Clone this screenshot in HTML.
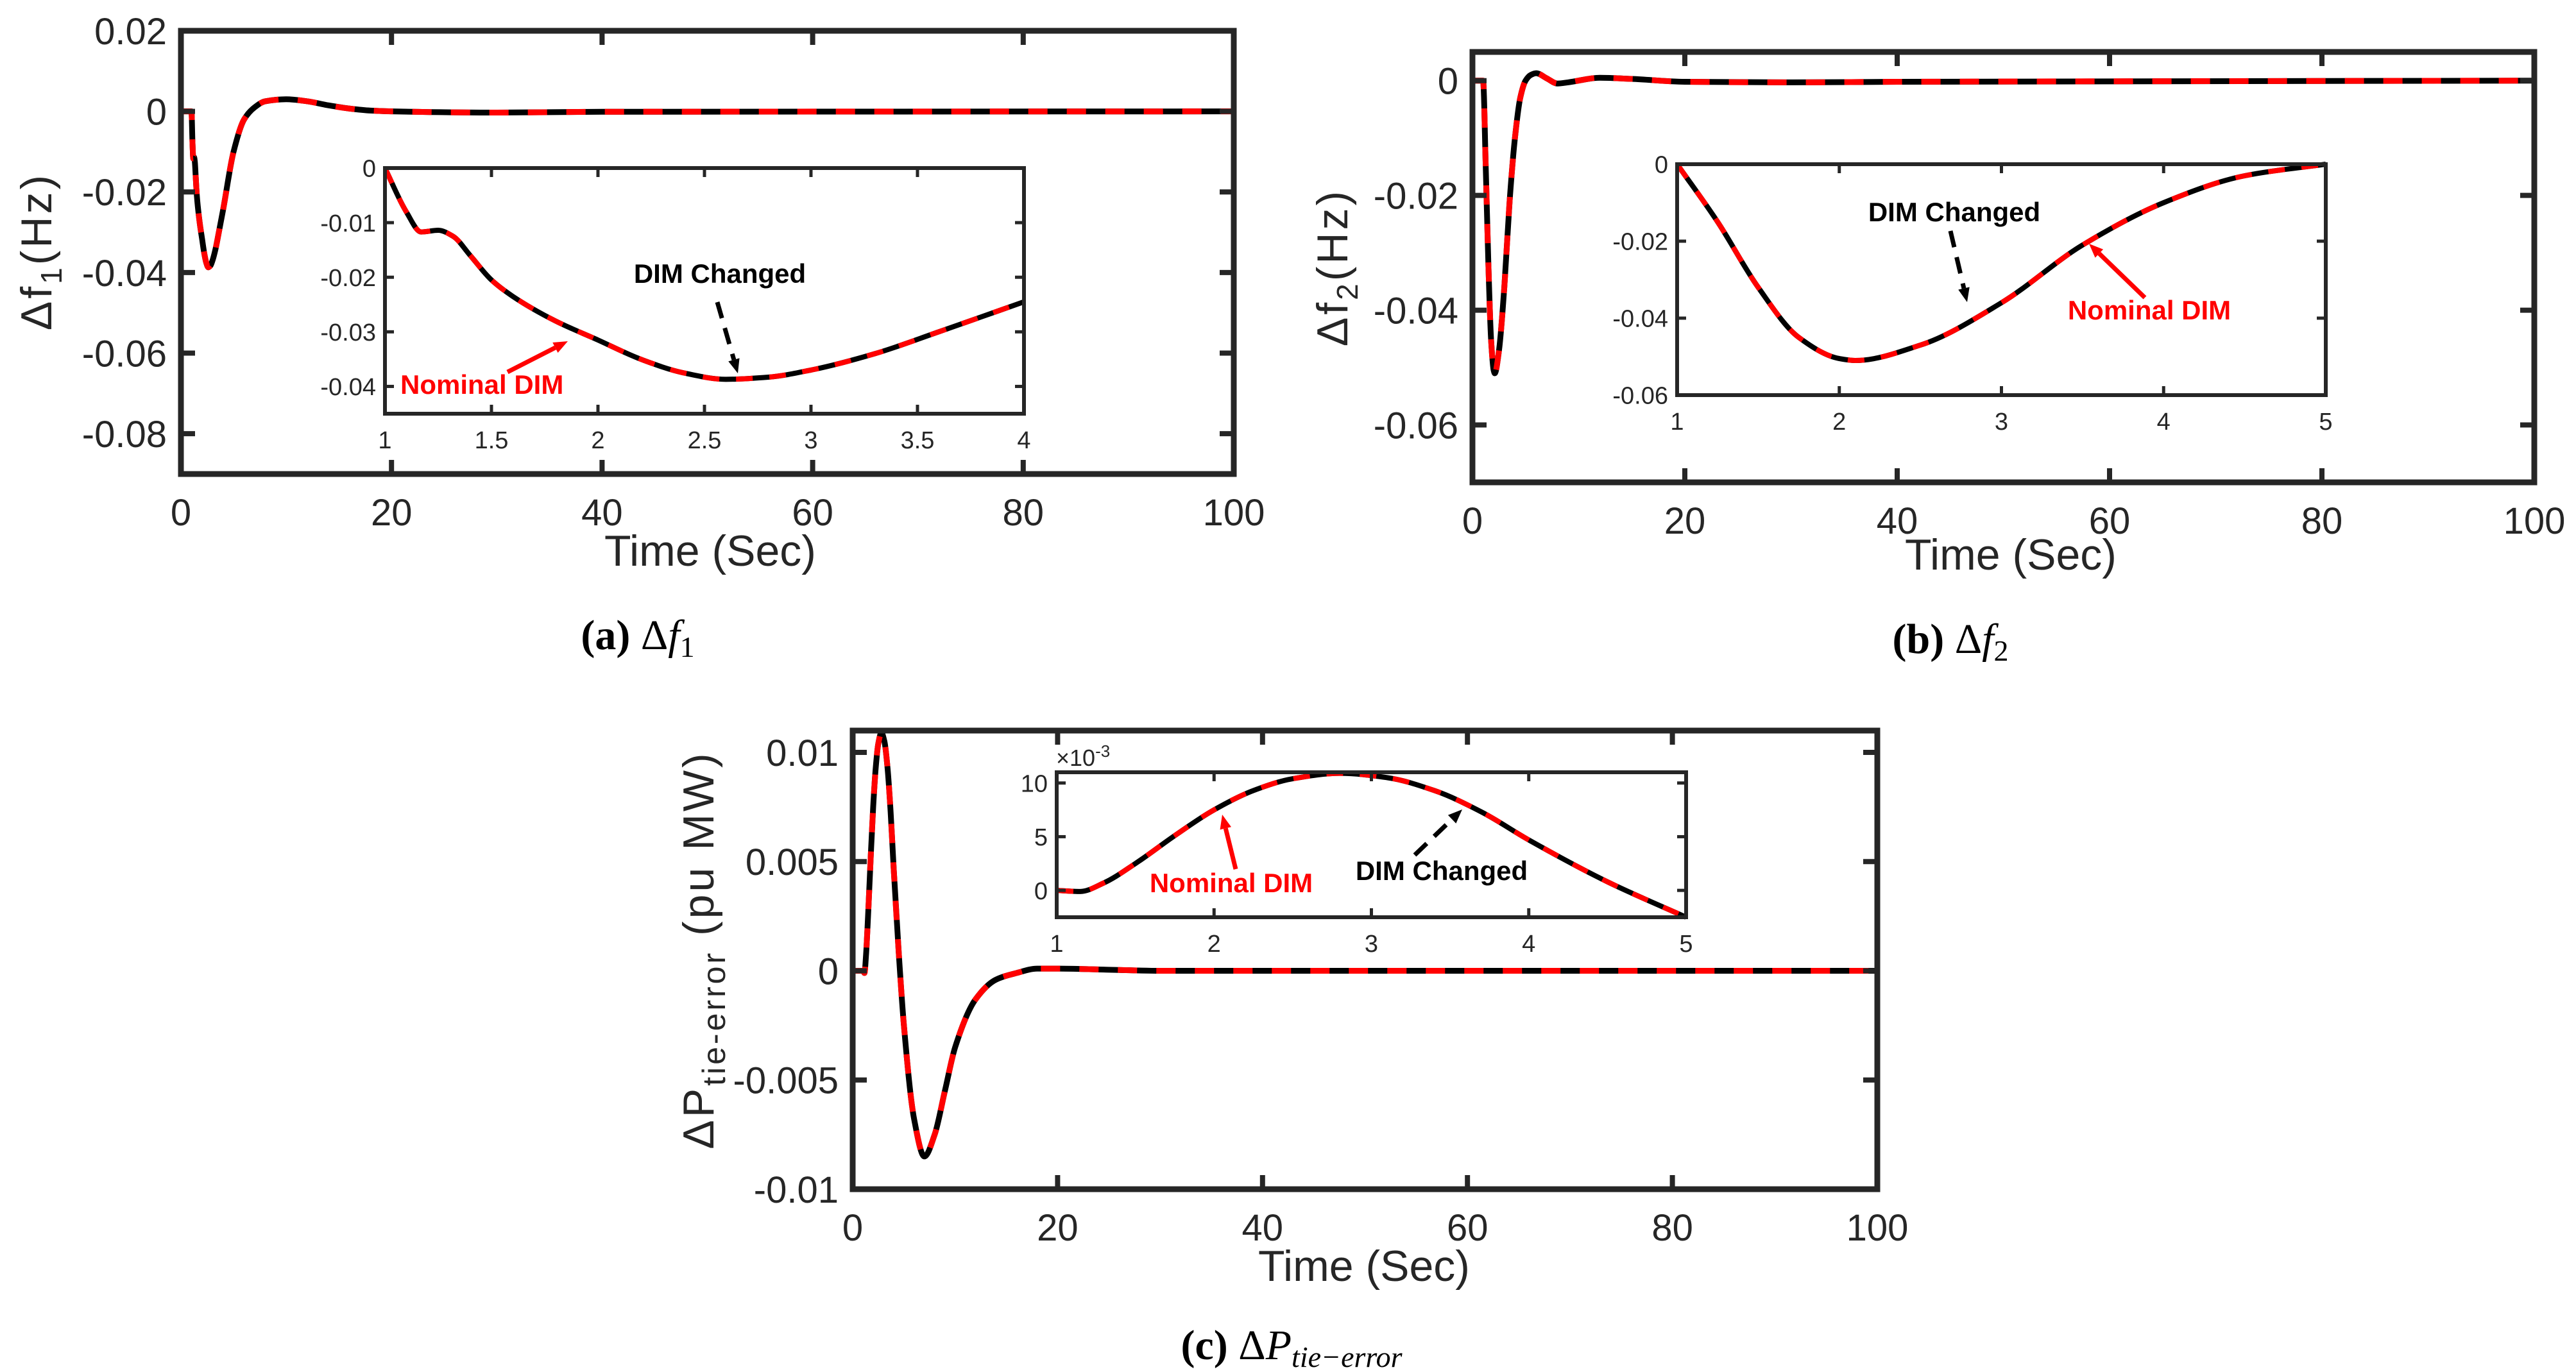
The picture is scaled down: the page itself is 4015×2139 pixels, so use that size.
<!DOCTYPE html>
<html><head><meta charset="utf-8"><style>
html,body{margin:0;padding:0;background:#fff;}
svg{display:block;}
text{font-family:"Liberation Sans",sans-serif;fill:#262626;}
.cap{font-family:"Liberation Serif",serif;fill:#000;}
</style></head><body>
<svg id="fig" width="4015" height="2139" viewBox="0 0 4015 2139" xmlns="http://www.w3.org/2000/svg"></svg>
<script>
// ---- data ----
const tA = [0,1,1.1,1.17,1.25,1.32,1.4,1.5,1.6,1.8,2.0,2.2,2.4,2.6,2.8,3.0,3.3,3.6,4,5,6,7,8,10,12,14,16,18,20,30,40,100];
const vA = [0,0,-0.008,-0.0117,-0.0114,-0.0125,-0.016,-0.0205,-0.0235,-0.028,-0.0315,-0.035,-0.0375,-0.0387,-0.0383,-0.037,-0.034,-0.030,-0.0245,-0.010,-0.002,0.001,0.0025,0.003,0.0025,0.0015,0.0007,0.0002,0,-0.0003,-0.0001,0];
const tB = [0,1,1.25,1.5,1.75,2.0,2.1,2.5,3.0,3.5,4.0,4.5,5,5.5,6,7,8,9,12,15,20,30,40,100];
const vB = [0,0,-0.015,-0.032,-0.045,-0.0505,-0.051,-0.047,-0.036,-0.021,-0.010,-0.003,0,0.001,0.0013,0.0004,-0.0005,-0.0003,0.0005,0.0003,-0.0002,-0.0003,-0.0002,0];
const tC = [0,1,1.15,1.3,1.5,1.75,2.0,2.25,2.5,2.8,3.1,3.4,3.7,4.0,4.5,5,6,7,8,9,10,12,14,16,18,20,25,30,100];
const vC = [0,0,-0.0001,0.0007,0.0025,0.0051,0.0075,0.0093,0.0104,0.0109,0.0105,0.0093,0.0073,0.0047,0.0008,-0.0025,-0.0068,-0.0085,-0.0075,-0.0055,-0.0035,-0.0013,-0.0004,-0.0001,0.0001,0.0001,0.00005,0,0];
const xTicksMain = [0,20,40,60,80,100];
const yTicksA = [0.02,0,-0.02,-0.04,-0.06,-0.08];
const yTicksB = [0,-0.02,-0.04,-0.06];
const yTicksC = [0.01,0.005,0,-0.005,-0.01];
const xTicksInA = [1,1.5,2,2.5,3,3.5,4];
const yTicksInA = [0,-0.01,-0.02,-0.03,-0.04];
const xTicksInB = [1,2,3,4,5];
const yTicksInB = [0,-0.02,-0.04,-0.06];
const xTicksInC = [1,2,3,4,5];
const yTicksInC = [10,5,0];

const NS="http://www.w3.org/2000/svg";
const svg=document.getElementById('fig');
function mk(tag,attrs,parent){const e=document.createElementNS(NS,tag);for(const k in attrs)e.setAttribute(k,attrs[k]);(parent||svg).appendChild(e);return e;}
function smoothPath(p){
  const n=p.length;if(n<2)return '';
  const d=[],m=new Array(n);
  for(let i=0;i<n-1;i++)d.push((p[i+1][1]-p[i][1])/(p[i+1][0]-p[i][0]));
  m[0]=d[0];m[n-1]=d[n-2];
  for(let i=1;i<n-1;i++){ if(d[i-1]*d[i]<=0)m[i]=0; else {const h0=p[i][0]-p[i-1][0],h1=p[i+1][0]-p[i][0];const w1=2*h1+h0,w2=h1+2*h0;m[i]=(w1+w2)/(w1/d[i-1]+w2/d[i]);} }
  let s=`M${p[0][0]},${p[0][1]}`;
  for(let i=0;i<n-1;i++){const h=(p[i+1][0]-p[i][0])/3;
    s+=` C${p[i][0]+h},${p[i][1]+m[i]*h} ${p[i+1][0]-h},${p[i+1][1]-m[i+1]*h} ${p[i+1][0]},${p[i+1][1]}`;}
  return s;
}
function fmt(v){return String(v);}
function axes(o){
  const g=mk('g',{});
  
  
  const sx=v=>o.L+(v-o.x0)/(o.x1-o.x0)*(o.R-o.L);
  const sy=v=>o.B-(v-o.y0)/(o.y1-o.y0)*(o.B-o.T);
  mk('rect',{x:o.L,y:o.T,width:o.R-o.L,height:o.B-o.T,fill:'#fff',stroke:'none'},g);
  const cid='c'+o.name;
  const cp=mk('clipPath',{id:cid},g);mk('rect',{x:o.L,y:o.T-6,width:o.R-o.L,height:o.B-o.T+12},cp);
  const pts=[];
  for(let i=0;i<o.t.length;i++){if(o.t[i]>=o.x0-0.3&&o.t[i]<=o.x1+0.3)pts.push([sx(o.t[i]),sy(o.v[i]*(o.scale||1))]);}
  const d=smoothPath(pts);
  const l1=mk('path',{d:d,fill:'none',stroke:'#000','stroke-width':o.lw,'clip-path':`url(#${cid})`,'stroke-linejoin':'round'},g);
  
  
  const l2=mk('path',{d:d,fill:'none',stroke:'#ff0000','stroke-width':o.lw,'stroke-dasharray':o.dash,'clip-path':`url(#${cid})`},g);
  
  
  const tl=o.tl;
  o.xt.forEach(v=>{const x=sx(v);
    mk('line',{x1:x,y1:o.B,x2:x,y2:o.B-tl,stroke:'#262626','stroke-width':o.tw},g);
    mk('line',{x1:x,y1:o.T,x2:x,y2:o.T+tl,stroke:'#262626','stroke-width':o.tw},g);
    const t=mk('text',{x:x,y:o.B+o.xlOff,'text-anchor':'middle','font-size':o.fs},g);t.textContent=fmt(v);
    
    
  });
  o.yt.forEach(v=>{const y=sy(v);
    mk('line',{x1:o.L,y1:y,x2:o.L+tl,y2:y,stroke:'#262626','stroke-width':o.tw},g);
    mk('line',{x1:o.R,y1:y,x2:o.R-tl,y2:y,stroke:'#262626','stroke-width':o.tw},g);
    const t=mk('text',{x:o.L-o.ylOff,y:y+o.fs*0.36,'text-anchor':'end','font-size':o.fs},g);t.textContent=fmt(v);
    
    
  });
  mk('rect',{x:o.L,y:o.T,width:o.R-o.L,height:o.B-o.T,fill:'none',stroke:'#262626','stroke-width':o.fw},g);
  return g;
}
function txt(x,y,s,attrs,name){const t=mk('text',Object.assign({x:x,y:y},attrs));t.textContent=s;return t;}
function arrow(x1,y1,x2,y2,col,dashed,name){
  const g=mk('g',{});
  const a=Math.atan2(y2-y1,x2-x1),h=22,w=9;
  const bx=x2-h*Math.cos(a),by=y2-h*Math.sin(a);
  mk('line',{x1:x1,y1:y1,x2:bx,y2:by,stroke:col,'stroke-width':7,'stroke-dasharray':dashed?'26 16':'none'},g);
  mk('polygon',{points:`${x2},${y2} ${bx+w*Math.sin(a)},${by-w*Math.cos(a)} ${bx-w*Math.sin(a)},${by+w*Math.cos(a)}`,fill:col},g);
}
const MAIN={x0:0,x1:100,lw:9,dash:'30 30',tl:22,tw:8,fw:9,fs:58,xlOff:80,ylOff:22,xt:xTicksMain};
const INS={lw:8,dash:'26 26',tl:14,tw:5,fw:6,fs:38,xlOff:54,ylOff:14};

// ---- (a) ----
axes(Object.assign({},MAIN,{name:'plot-a',L:282,R:1923,T:48,B:739,y0:-0.09,y1:0.02,t:tA,v:vA,yt:yTicksA}));
axes(Object.assign({},INS,{name:'inset-a',L:600,R:1596,T:262,B:645,x0:1,x1:4,y0:-0.045,y1:0,t:tA,v:vA,xt:xTicksInA,yt:yTicksInA}));
txt(1122,441,'DIM Changed',{'text-anchor':'middle','font-size':42,'font-weight':'bold',style:'fill:#000'},'dim-changed-label');
arrow(1118,471,1150,582,'#000',true,'dim-changed-arrow');
txt(624,614,'Nominal DIM',{'font-size':42,'font-weight':'bold',style:'fill:#ff0000'},'nominal-dim-label');
arrow(791,580,885,532,'#ff0000',false,'nominal-dim-arrow');
txt(1107,882,'Time (Sec)',{'text-anchor':'middle','font-size':68},'x-axis-title');
(function(){const t=mk('text',{transform:'translate(80,392) rotate(-90)','text-anchor':'middle','font-size':68,'letter-spacing':'4'});

t.innerHTML='Δf<tspan font-size="46" dy="16">1</tspan><tspan dy="-16">(Hz)</tspan>';})();
(function(){const t=mk('text',{x:994,y:1012,'text-anchor':'middle','font-size':66,class:'cap'});

t.innerHTML='<tspan font-weight="bold">(a)</tspan>  Δ<tspan font-style="italic">f</tspan><tspan font-size="46" dy="12">1</tspan>';})();

// ---- (b) ----
axes(Object.assign({},MAIN,{name:'plot-b',L:2295,R:3950,T:81,B:752,y0:-0.07,y1:0.005,t:tB,v:vB,yt:yTicksB}));
axes(Object.assign({},INS,{name:'inset-b',L:2614,R:3625,T:256,B:616,x0:1,x1:5,y0:-0.06,y1:0,t:tB,v:vB,xt:xTicksInB,yt:yTicksInB}));
txt(3046,345,'DIM Changed',{'text-anchor':'middle','font-size':42,'font-weight':'bold',style:'fill:#000'},'dim-changed-label');
arrow(3040,360,3066,471,'#000',true,'dim-changed-arrow');
txt(3350,498,'Nominal DIM',{'text-anchor':'middle','font-size':42,'font-weight':'bold',style:'fill:#ff0000'},'nominal-dim-label');
arrow(3343,464,3256,380,'#ff0000',false,'nominal-dim-arrow');
txt(3134,888,'Time (Sec)',{'text-anchor':'middle','font-size':68},'x-axis-title');
(function(){const t=mk('text',{transform:'translate(2100,417) rotate(-90)','text-anchor':'middle','font-size':68,'letter-spacing':'4'});

t.innerHTML='Δf<tspan font-size="46" dy="16">2</tspan><tspan dy="-16">(Hz)</tspan>';})();
(function(){const t=mk('text',{x:3040,y:1018,'text-anchor':'middle','font-size':66,class:'cap'});

t.innerHTML='<tspan font-weight="bold">(b)</tspan>  Δ<tspan font-style="italic">f</tspan><tspan font-size="46" dy="12">2</tspan>';})();

// ---- (c) ----
axes(Object.assign({},MAIN,{name:'plot-c',L:1329,R:2926,T:1139,B:1854,y0:-0.01,y1:0.011,t:tC,v:vC,yt:yTicksC}));
axes(Object.assign({},INS,{name:'inset-c',L:1647,R:2628,T:1204,B:1430,x0:1,x1:5,y0:-2.5,y1:11,scale:1000,t:tC,v:vC,xt:xTicksInC,yt:yTicksInC}));
(function(){const t=mk('text',{x:1646,y:1194,'font-size':36});

t.innerHTML='×10<tspan font-size="26" dy="-14">-3</tspan>';})();
txt(1919,1391,'Nominal DIM',{'text-anchor':'middle','font-size':42,'font-weight':'bold',style:'fill:#ff0000'},'nominal-dim-label');
arrow(1926,1355,1905,1270,'#ff0000',false,'nominal-dim-arrow');
txt(2247,1372,'DIM Changed',{'text-anchor':'middle','font-size':42,'font-weight':'bold',style:'fill:#000'},'dim-changed-label');
arrow(2205,1333,2279,1262,'#000',true,'dim-changed-arrow');
txt(2126,1997,'Time (Sec)',{'text-anchor':'middle','font-size':68},'x-axis-title');
(function(){const t=mk('text',{transform:'translate(1112,1481) rotate(-90)','text-anchor':'middle','font-size':68,'letter-spacing':'4'});

t.innerHTML='ΔP<tspan font-size="50" dy="18">tie-error</tspan><tspan dy="-18"> (pu MW)</tspan>';})();
(function(){const t=mk('text',{x:2013,y:2119,'text-anchor':'middle','font-size':66,class:'cap'});

t.innerHTML='<tspan font-weight="bold">(c)</tspan>  Δ<tspan font-style="italic">P</tspan><tspan font-size="46" dy="12" font-style="italic">tie−error</tspan>';})();
</script>
</body></html>
